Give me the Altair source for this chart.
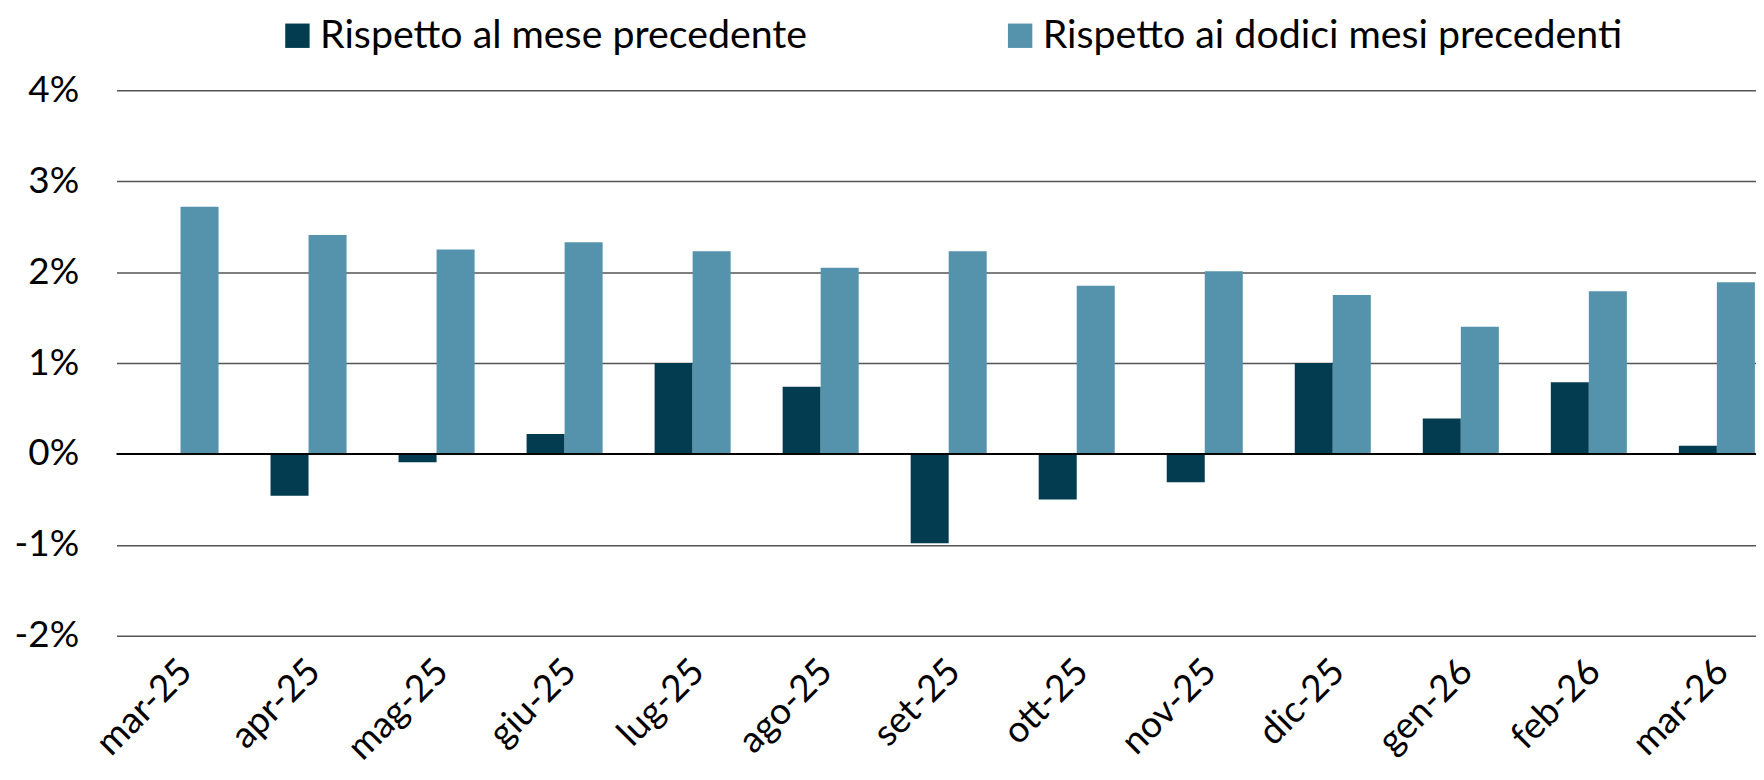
import altair as alt
import pandas as pd

mesi = ["mar-25", "apr-25", "mag-25", "giu-25", "lug-25", "ago-25", "set-25",
        "ott-25", "nov-25", "dic-25", "gen-26", "feb-26", "mar-26"]
serie = ["Rispetto al mese precedente", "Rispetto ai dodici mesi precedenti"]
mese_prec = [None, -0.46, -0.09, 0.22, 1.00, 0.74, -0.98, -0.50, -0.31, 1.00, 0.39, 0.79, 0.09]
dodici_mesi = [2.72, 2.41, 2.25, 2.33, 2.23, 2.05, 2.23, 1.85, 2.01, 1.75, 1.40, 1.79, 1.89]
colori = ["#033C51", "#5593AD"]

rows = []
for m, a, b in zip(mesi, mese_prec, dodici_mesi):
    if a is not None:
        rows.append({"mese": m, "serie": serie[0], "valore": a})
    rows.append({"mese": m, "serie": serie[1], "valore": b})
df = pd.DataFrame(rows)

FONT = "Lato"

bars = alt.Chart(df).mark_bar().encode(
    x=alt.X("mese:N", sort=mesi,
            scale=alt.Scale(domain=mesi, range=[0, 1672], paddingInner=0.406, paddingOuter=0.203),
            axis=alt.Axis(title=None, labelAngle=-45, labelFontSize=37, labelFont=FONT,
                          labelColor="black", ticks=False, domain=False, labelPadding=30,
                          labelOffset=6,
                          labelAlign="right", labelBaseline="middle")),
    xOffset=alt.XOffset("serie:N", sort=serie, scale=alt.Scale(domain=serie)),
    y=alt.Y("valore:Q", scale=alt.Scale(domain=[-2, 4], nice=False),
            axis=alt.Axis(title=None, values=[-2, -1, 0, 1, 2, 3, 4],
                          labelExpr="datum.value + '%'", labelFontSize=37, labelFont=FONT,
                          labelColor="black", ticks=False, domain=False, labelPadding=38,
                          grid=True, gridColor="#555555", gridWidth=1.5)),
    color=alt.Color("serie:N", sort=serie,
                    scale=alt.Scale(domain=serie, range=colori),
                    legend=alt.Legend(title=None, orient="none", legendX=162, legendY=-75,
                                      direction="horizontal", symbolType="square",
                                      symbolSize=600, symbolStrokeWidth=0,
                                      labelFontSize=39.5, labelFont=FONT, labelColor="black",
                                      columnPadding=194, padding=0, labelOffset=3,
                                      labelLimit=800)),
)

zero = alt.Chart(pd.DataFrame({"z": [0]})).mark_rule(color="black", strokeWidth=2).encode(
    y=alt.Y("z:Q")
)

chart = alt.layer(bars, zero).properties(
    width=1647, height=548,
    autosize=alt.AutoSizeParams(type="none"),
    padding={"left": 109, "top": 81, "right": 0, "bottom": 130},
).configure_view(stroke=None)

chart.save("out.html", embed_options={"renderer": "svg", "actions": False})
